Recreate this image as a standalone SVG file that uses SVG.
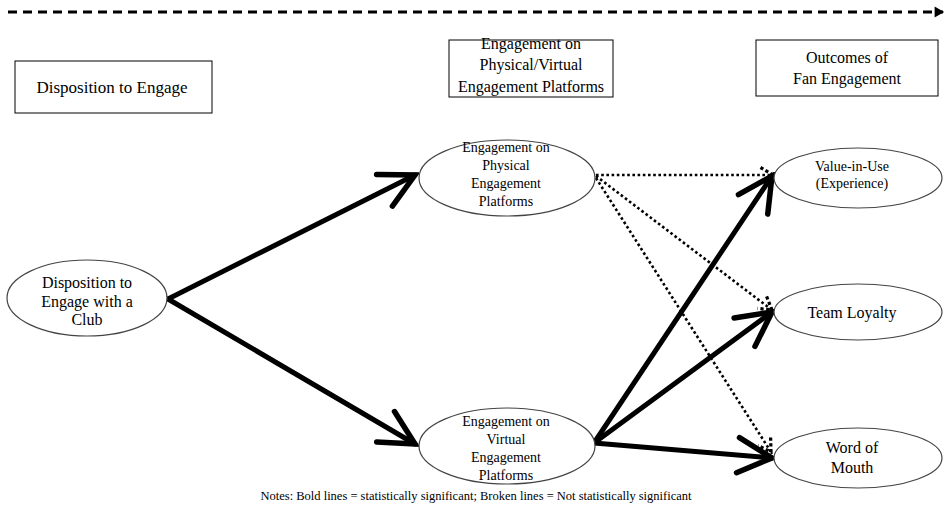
<svg xmlns="http://www.w3.org/2000/svg" width="951" height="517" viewBox="0 0 951 517">
<style>
text{font-family:'Liberation Serif','Times New Roman',Tinos,'DejaVu Serif',serif;fill:#000;text-anchor:middle}
.box{fill:#fff;stroke:#000;stroke-width:1}
.ell{fill:#fff;stroke:#444;stroke-width:1.2}
.bold{stroke:#000;stroke-width:5;fill:none;stroke-linecap:round}
.dot{stroke:#000;stroke-width:2.6;fill:none;stroke-dasharray:2.6 2.6}
.hd{font-size:16px}
.el{font-size:14px}
.lg{font-size:16px}
</style>
<defs>
<marker id="bh" markerUnits="userSpaceOnUse" markerWidth="44" markerHeight="44" viewBox="-36 -20 40 40" refX="0" refY="0" orient="auto">
<path d="M-31,-16 L0,0 L-31,16" fill="none" stroke="#000" stroke-width="5" stroke-linecap="round" stroke-linejoin="miter"/>
</marker>
<marker id="dh" markerUnits="userSpaceOnUse" markerWidth="20" markerHeight="20" viewBox="-14 -8 16 16" refX="0" refY="0" orient="auto">
<path d="M-10,-6 L0,0 L-10,6" fill="none" stroke="#000" stroke-width="2.6" stroke-dasharray="2.6 2"/>
</marker>
<marker id="th" markerUnits="userSpaceOnUse" markerWidth="12" markerHeight="12" viewBox="-8 -5 9 10" refX="0" refY="0" orient="auto">
<path d="M-7,-4.5 L1,0 L-7,4.5 Z" fill="#000"/>
</marker>
</defs>
<g id="timeline">
<line x1="8" y1="12" x2="943" y2="12" stroke="#000" stroke-width="3" stroke-dasharray="9 6" marker-end="url(#th)"/>
</g>
<g id="box-disposition">
<rect class="box" x="15" y="61" width="197" height="52"/>
<text x="112" y="93" style="font-size:17px">Disposition to Engage</text>
</g>
<g id="box-platforms">
<rect class="box" x="449" y="40" width="164" height="57"/>
<text class="hd" x="531" y="49">Engagement on</text>
<text class="hd" x="531" y="70">Physical/Virtual</text>
<text class="hd" x="531" y="92">Engagement Platforms</text>
</g>
<g id="box-outcomes">
<rect class="box" x="756" y="40" width="182" height="56"/>
<text class="hd" x="847" y="63">Outcomes of</text>
<text class="hd" x="847" y="84">Fan Engagement</text>
</g>
<g id="connectors">
<line class="bold" x1="168" y1="299" x2="415" y2="175" marker-end="url(#bh)"/>
<line class="bold" x1="168" y1="299" x2="415" y2="444" marker-end="url(#bh)"/>
<line class="bold" x1="594" y1="443" x2="772" y2="176" marker-end="url(#bh)"/>
<line class="bold" x1="594" y1="443" x2="772" y2="312" marker-end="url(#bh)"/>
<line class="bold" x1="594" y1="443" x2="772" y2="458" marker-end="url(#bh)"/>
<line class="dot" x1="596" y1="175" x2="773" y2="175" marker-end="url(#dh)"/>
<line class="dot" x1="596" y1="176" x2="772" y2="310" marker-end="url(#dh)"/>
<line class="dot" x1="596" y1="178" x2="771" y2="452" marker-end="url(#dh)"/>
</g>
<g id="node-disposition">
<ellipse class="ell" cx="87" cy="298" rx="80" ry="38"/>
<text class="lg" x="87" y="288">Disposition to</text>
<text class="lg" x="87" y="307">Engage with a</text>
<text class="lg" x="87" y="325">Club</text>
</g>
<g id="node-physical">
<ellipse class="ell" cx="507" cy="178" rx="88" ry="38"/>
<text class="el" x="506" y="152">Engagement on</text>
<text class="el" x="506" y="170">Physical</text>
<text class="el" x="506" y="188">Engagement</text>
<text class="el" x="506" y="206">Platforms</text>
</g>
<g id="node-virtual">
<ellipse class="ell" cx="507" cy="446" rx="88" ry="38"/>
<text class="el" x="506" y="426">Engagement on</text>
<text class="el" x="506" y="444">Virtual</text>
<text class="el" x="506" y="462">Engagement</text>
<text class="el" x="506" y="480">Platforms</text>
</g>
<g id="node-value">
<ellipse class="ell" cx="858" cy="178" rx="84" ry="30"/>
<text class="el" x="852" y="171">Value-in-Use</text>
<text class="el" x="852" y="188">(Experience)</text>
</g>
<g id="node-loyalty">
<ellipse class="ell" cx="858" cy="312" rx="84" ry="28"/>
<text class="lg" x="852" y="318">Team Loyalty</text>
</g>
<g id="node-wom">
<ellipse class="ell" cx="858" cy="458" rx="84" ry="30"/>
<text class="lg" x="852" y="453">Word of</text>
<text class="lg" x="852" y="473">Mouth</text>
</g>
<g id="notes">
<text x="476" y="500" style="font-size:12.5px">Notes: Bold lines = statistically significant; Broken lines = Not statistically significant</text>
</g>
</svg>
